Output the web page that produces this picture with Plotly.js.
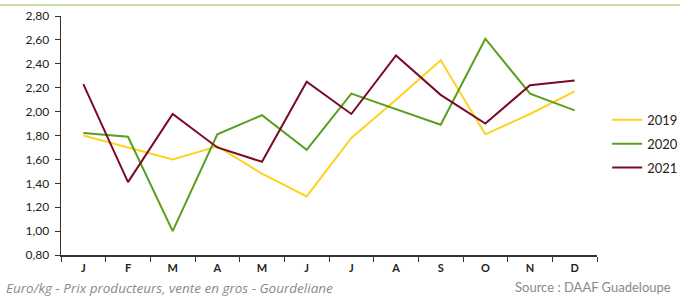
<!DOCTYPE html>
<html><head><meta charset="utf-8">
<script src="https://cdn.plot.ly/plotly-3.0.1.min.js"></script>
<style>html,body{margin:0;padding:0;background:#fff}#chart{width:680px;height:297px}</style>
</head><body><div id="chart"></div>
<script>
const months = ["J","F","M","A","M ","J ","J  ","A ","S","O","N","D"];
const tickLabels = ["J","F","M","A","M","J","J","A","S","O","N","D"];
const s2019 = [1.80,1.70,1.60,1.71,1.48,1.29,1.78,2.10,2.43,1.81,1.98,2.17];
const s2020 = [1.82,1.79,1.00,1.81,1.97,1.68,2.15,2.02,1.89,2.61,2.15,2.01];
const s2021 = [2.23,1.41,1.98,1.70,1.58,2.25,1.98,2.47,2.14,1.90,2.22,2.26];
const yTicks = [0.8,1.0,1.2,1.4,1.6,1.8,2.0,2.2,2.4,2.6,2.8];
const yTickText = yTicks.map(v => v.toFixed(2).replace('.', ','));

const mk = (name, y, color, g) => ({
  type: 'scatter', mode: 'lines', name: name, x: months, y: y,
  line: {color: color, width: 2}, legendgroup: g, hoverinfo: 'skip'
});
const data = [
  mk('2019', s2019, '#FFD21F', 'a'),
  mk('2020', s2020, '#5A9E1E', 'b'),
  mk('2021', s2021, '#7A0A26', 'c')
];
const layout = {
  width: 680, height: 297,
  margin: {l: 61, r: 83, t: 16, b: 42, autoexpand: false},
  paper_bgcolor: '#fff', plot_bgcolor: '#fff',
  font: {family: 'Lato, sans-serif', color: '#222', size: 11},
  showlegend: true,
  legend: {x: 1.019, xanchor: 'left', y: 0.465, yanchor: 'middle',
    font: {size: 13, color: '#222', family: 'Lato, sans-serif'}, tracegroupgap: 4, bgcolor: 'rgba(0,0,0,0)'},
  xaxis: {
    type: 'category', tickmode: 'array', tickvals: months, ticktext: tickLabels,
    tickson: 'boundaries', ticks: 'outside', ticklen: 5, tickcolor: '#333', tickwidth: 1,
    showline: true, linecolor: '#333', linewidth: 1.5, showgrid: false, zeroline: false,
    range: [-0.5, 11.5], tickfont: {size: 11, color: '#222', family: 'Lato, sans-serif', weight: 'bold'},
    ticklabelstandoff: 2, fixedrange: true
  },
  yaxis: {
    range: [0.8, 2.8], tickmode: 'array', tickvals: yTicks, ticktext: yTickText,
    ticks: 'outside', ticklen: 5, tickcolor: '#333', tickwidth: 1,
    showline: true, linecolor: '#333', linewidth: 1.5, showgrid: false, zeroline: false,
    tickfont: {size: 12, color: '#222', family: 'Lato, sans-serif'}, ticklabelstandoff: 3, fixedrange: true
  },
  shapes: [{type: 'line', xref: 'paper', yref: 'paper', x0: -61/536, x1: 619/536,
    y0: 1 + 11/239, y1: 1 + 11/239, line: {color: '#C6E0A8', width: 2}}],
  annotations: [
    {text: 'Euro/kg - Prix producteurs, vente en gros - Gourdeliane', xref: 'paper', yref: 'paper',
     x: -57/536, xanchor: 'left', y: -33/239, yanchor: 'middle', showarrow: false,
     font: {size: 13.5, color: '#8a8a8a', family: '"Open Sans", sans-serif', style: 'italic'}},
    {text: 'Source : DAAF Guadeloupe', xref: 'paper', yref: 'paper',
     x: 612/536, xanchor: 'right', y: -32/239, yanchor: 'middle', showarrow: false,
     font: {size: 13, color: '#8a8a8a', family: 'Lato, sans-serif'}}
  ]
};
Plotly.newPlot('chart', data, layout, {displayModeBar: false, staticPlot: true});
</script></body></html>
